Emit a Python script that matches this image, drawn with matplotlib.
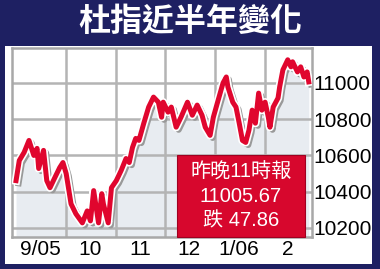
import matplotlib
matplotlib.use('Agg')
import matplotlib.pyplot as plt
import matplotlib.transforms as mtransforms
from matplotlib.patches import Rectangle

# days counted from 2005-09-01
days = [-1, 1, 4, 7, 10, 12, 13, 16, 18, 20, 23, 26, 28, 30, 32, 33, 36, 40, 43, 45,
        47, 50, 52, 53, 56, 58, 61, 64, 67, 69, 71, 73, 75, 78, 81, 84, 87, 89, 90, 93,
        95, 98, 101, 105, 108, 111, 114, 116, 119, 121, 124, 127, 129, 130, 133, 135,
        137, 139, 141, 143, 145, 147, 149, 151, 153, 155, 156, 158, 161, 162, 164, 167,
        169, 170, 173, 175, 177, 179, 180]
index_vals = [10461, 10572, 10617, 10683, 10600, 10639, 10528, 10628, 10461, 10422,
              10478, 10533, 10561, 10500, 10389, 10333, 10278, 10228, 10294, 10239,
              10406, 10228, 10389, 10333, 10228, 10422, 10461, 10517, 10583, 10561,
              10644, 10694, 10683, 10778, 10867, 10922, 10894, 10811, 10894, 10839,
              10867, 10756, 10811, 10894, 10822, 10878, 10822, 10756, 10711, 10811,
              10906, 11000, 11033, 10978, 10894, 10867, 10778, 10683, 10672, 10739,
              10850, 10778, 10944, 10850, 10894, 10811, 10756, 10867, 10917, 10978,
              11072, 11128, 11089, 11117, 11061, 11089, 11033, 11061, 11006]

month_edges = [30, 61, 91, 122, 153]
month_mid = [14, 45, 75.5, 106, 137, 167]
month_labels = ['9/05', '10', '11', '12', '1/06', '2']
y_ticks = [10200, 10400, 10600, 10800, 11000]
box_lines = ['昨晚11時報', '11005.67', '跌 47.86']

navy = '#1e2062'
red = '#e0062e'

fig = plt.figure(figsize=(3.8, 2.69), dpi=100, facecolor=navy)
fig.patches.append(Rectangle((5 / 380, 5 / 269), 367 / 380, 218 / 269,
                             transform=fig.transFigure, facecolor='white',
                             edgecolor='none', zorder=-5))
fig.text(0.5, 1 - 22 / 269, '杜指近半年變化', color='white', fontsize=23,
         fontweight='bold', family=['Noto Sans CJK TC'], ha='center', va='center')

ax = fig.add_axes([12 / 380, 32 / 269, 300 / 380, 189 / 269])
ax.set_zorder(2)
ax.set_xlim(-3.5, 182)
ax.set_ylim(10150, 11193)

lo = ax.get_ylim()[0]
ax.fill_between(days, index_vals, lo, color='#e8ecf1', zorder=0.5, lw=0)

for d in month_edges:
    ax.axvline(d, color='#b4b4b4', lw=1.8, zorder=1)
for v in y_ticks:
    ax.axhline(v, color='#b4b4b4', lw=1.8, zorder=1)

shadow = mtransforms.offset_copy(ax.transData, fig=fig, x=2.5, y=-2.5, units='dots')
ax.plot(days, index_vals, color='#999999', lw=4.5, transform=shadow, zorder=2,
        solid_joinstyle='round')
ax.plot(days, index_vals, color='white', lw=6, zorder=3, solid_joinstyle='round')
ax.plot(days, index_vals, color=red, lw=3.6, zorder=4, solid_joinstyle='round')

for s in ax.spines.values():
    s.set_color('#a8a8a8')
    s.set_linewidth(1.8)

ax.yaxis.tick_right()
ax.set_yticks(y_ticks)
ax.set_yticklabels([str(v) for v in y_ticks])
ax.set_xticks(month_mid)
ax.set_xticklabels(month_labels)
ax.tick_params(length=0, labelsize=15, pad=2)
ax.tick_params(axis='y', pad=1)
for lab in ax.get_xticklabels() + ax.get_yticklabels():
    lab.set_family(['Liberation Sans'])

# red info box
ax.add_patch(Rectangle((177 / 380, 32 / 269), 128 / 380, 82 / 269,
                       transform=fig.transFigure, facecolor='#d7072d',
                       edgecolor='#a00020', lw=0.8, zorder=5, clip_on=False))
for i, t in enumerate(box_lines):
    ax.text(241 / 380, 1 - (172 + i * 24.5) / 269, t, color='white', fontsize=14.5,
            family=['Liberation Sans', 'Noto Sans CJK TC'], ha='center',
            va='center', zorder=6, transform=fig.transFigure)

fig.savefig('out.png', dpi=100, facecolor=navy)
